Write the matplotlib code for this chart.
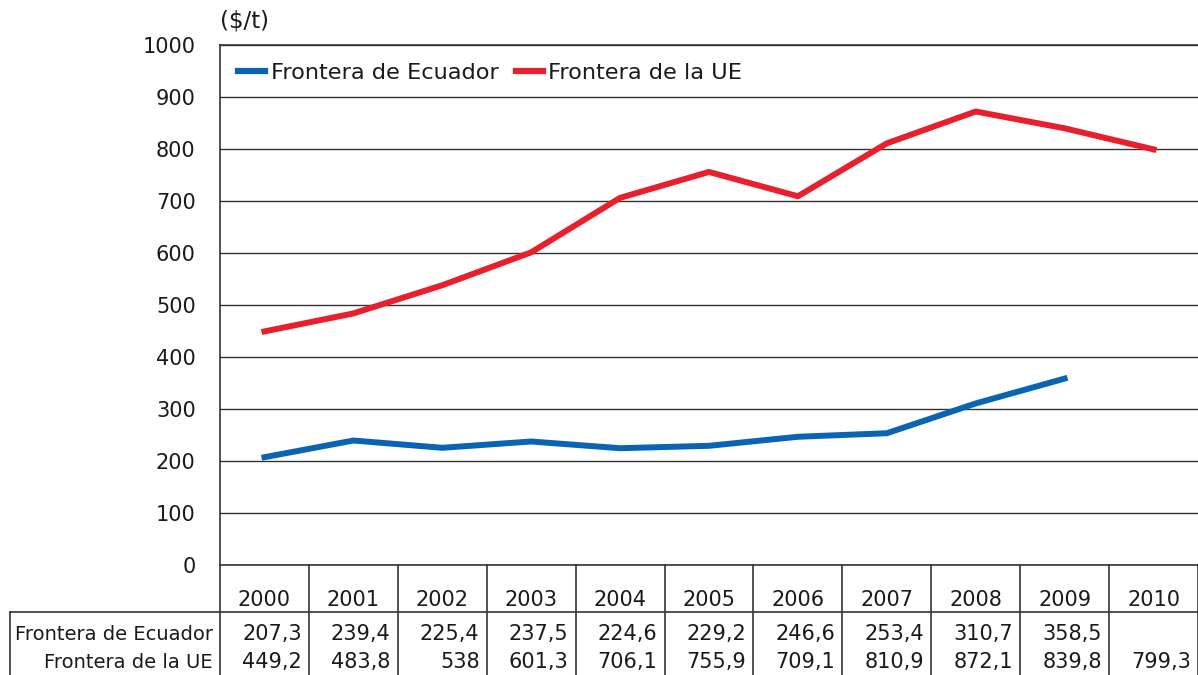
import matplotlib
matplotlib.use("Agg")
from matplotlib import pyplot as plt
from matplotlib import transforms
import numpy as np

# data
years = ['2000', '2001', '2002', '2003', '2004', '2005', '2006', '2007', '2008', '2009', '2010']
ecuador = [207.3, 239.4, 225.4, 237.5, 224.6, 229.2, 246.6, 253.4, 310.7, 358.5, None]
ue = [449.2, 483.8, 538, 601.3, 706.1, 755.9, 709.1, 810.9, 872.1, 839.8, 799.3]
series_names = ['Frontera de Ecuador', 'Frontera de la UE']
yticks = [0, 100, 200, 300, 400, 500, 600, 700, 800, 900, 1000]

BLUE = '#0a64b4'
RED = '#e8202e'
TXT = '#1a1a1a'
LINE = '#333333'

plt.rcParams['font.family'] = ['DejaVu Sans']


def fmt(v):
    if v is None:
        return ''
    if float(v).is_integer():
        return str(int(v))
    return ('%.1f' % v).replace('.', ',')


def main():
    W, H = 1198, 675
    fig = plt.figure(figsize=(W / 100, H / 100), dpi=100)
    ax = fig.add_axes([220 / W, (H - 565) / H, 978 / W, 520 / H])

    x = np.arange(len(years))
    ec = np.array([np.nan if v is None else v for v in ecuador])
    ax.plot(x, ec, color=BLUE, lw=4.3, label=series_names[0])
    ax.plot(x, ue, color=RED, lw=4.3, label=series_names[1])

    ax.set_xlim(-0.5, len(years) - 0.5)
    ax.set_ylim(0, 1000)
    ax.set_yticks(yticks)
    ax.set_yticklabels([str(t) for t in yticks], fontsize=15, color=TXT)
    ax.tick_params(axis='y', length=0, pad=17.5)
    ax.set_xticks([])
    ax.grid(axis='y', color=LINE, lw=1)
    ax.spines['right'].set_visible(False)
    for s in ['top', 'left', 'bottom']:
        ax.spines[s].set_color(LINE)
        ax.spines[s].set_linewidth(1.2)

    ax.text(0, 1.024, '($/t)', transform=ax.transAxes, fontsize=16.5, color=TXT,
            ha='left', va='bottom')

    leg = ax.legend(loc='upper left', ncol=2, frameon=False, fontsize=16.2,
                    handlelength=1.2, handletextpad=0.25, columnspacing=0.75,
                    bbox_to_anchor=(0.005, 0.992), borderaxespad=0.2)
    for t in leg.get_texts():
        t.set_color(TXT)
    for h in leg.get_lines():
        h.set_linewidth(4.5)

    # data table under the axes
    tr = transforms.blended_transform_factory(ax.transData, ax.transAxes)
    px = 1 / 520.0
    y_mid = -(612 - 565) * px
    y_bot = -(675 - 565) * px
    for i in range(len(years) + 1):
        ax.plot([i - 0.5, i - 0.5], [0, y_bot], color=LINE, lw=1.2,
                transform=tr, clip_on=False)
    fx = transforms.blended_transform_factory(fig.transFigure, ax.transAxes)
    ax.plot([10 / W, 1.0], [y_mid, y_mid], color=LINE, lw=1.2, transform=fx, clip_on=False)
    ax.plot([10 / W, 10 / W], [y_mid, y_bot], color=LINE, lw=1.2, transform=fx, clip_on=False)

    for i, yr in enumerate(years):
        ax.text(i, -(606 - 565) * px, yr, transform=tr, ha='center', va='baseline',
                fontsize=15, color=TXT)
        ax.text(i + 0.42, -(640 - 565) * px, fmt(ecuador[i]), transform=tr, ha='right',
                va='baseline', fontsize=15, color=TXT)
        ax.text(i + 0.42, -(668 - 565) * px, fmt(ue[i]), transform=tr, ha='right',
                va='baseline', fontsize=15, color=TXT)

    ax.text(213 / W, -(640 - 565) * px, series_names[0], transform=fx, ha='right',
            va='baseline', fontsize=14, color=TXT)
    ax.text(213 / W, -(668 - 565) * px, series_names[1], transform=fx, ha='right',
            va='baseline', fontsize=14, color=TXT)

    fig.savefig('out.png', dpi=100)


if __name__ == "__main__":
    main()
